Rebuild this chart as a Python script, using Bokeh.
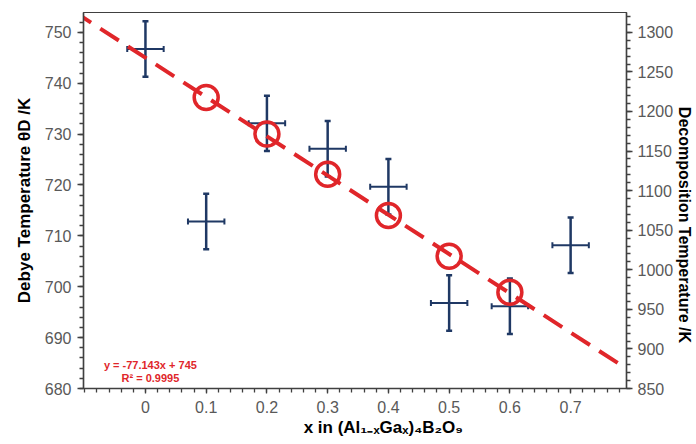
import math
from bokeh.plotting import figure
from bokeh.models import (Range1d, LinearAxis, SingleIntervalTicker, FixedTicker,
                          ColumnDataSource, Whisker, TeeHead, Label)
from bokeh.embed import file_html
from bokeh.resources import INLINE

# ---------------- data ----------------
x_debye = [0.1, 0.2, 0.3, 0.4, 0.5, 0.6]
debye_temp = [737.2, 730.0, 722.1, 714.0, 706.0, 698.9]

x_decomp = [0.0, 0.1, 0.2, 0.3, 0.4, 0.5, 0.6, 0.7]
decomp_temp = [1279, 1061, 1185, 1153, 1105, 958, 954, 1031]
decomp_err = [35, 35, 35, 35, 35, 35, 35, 35]
x_err = [0.03, 0.03, 0.03, 0.03, 0.03, 0.03, 0.03, 0.03]

trend_slope = -77.143
trend_intercept = 745.0
trend_x = [-0.12, 0.95]
eq_text = "y = -77.143x + 745"
r2_text = "R\u00b2 = 0.9995"

x_ticks = [0, 0.1, 0.2, 0.3, 0.4, 0.5, 0.6, 0.7]
x_tick_labels = ["0", "0.1", "0.2", "0.3", "0.4", "0.5", "0.6", "0.7"]

left_title = "Debye Temperature \u03b8D /K"
right_title = "Decomposition Temperature /K"
x_title = "x in (Al\u2081\u208b\u2093Ga\u2093)\u2084B\u2082O\u2089"

# ---------------- geometry / style ----------------
W, H = 696, 444
FL, FR, FT, FB = 83, 627, 12, 388
X0, X1 = -0.102, 0.792
Y0, Y1 = 680.0, 753.9
R0, R1 = 850.0, 850.0 + (Y1 - Y0) * 450.0 / 70.0

FONT = "Liberation Sans"
RED = "#e0262a"
NAVY = "#1f3864"
AXC = "#404040"
TICKC = "#595959"
NBSP = "\u00a0"

p = figure(width=W, height=H, x_range=Range1d(X0, X1), y_range=Range1d(Y0, Y1),
           output_backend="svg", toolbar_location=None,
           x_axis_type=None, y_axis_type=None,
           min_border_left=FL, min_border_right=W - FR,
           min_border_top=FT, min_border_bottom=H - FB)
p.extra_y_ranges = {"right": Range1d(R0, R1)}
p.background_fill_color = "white"
p.border_fill_color = "white"
p.outline_line_color = AXC
p.outline_line_width = 1.2


def style_axis(ax, tick_out=6, minor_out=4, standoff=6):
    ax.axis_line_color = AXC
    ax.axis_line_width = 1.5
    ax.major_tick_line_color = AXC
    ax.minor_tick_line_color = AXC
    ax.major_tick_line_width = 1.3
    ax.minor_tick_line_width = 1.3
    ax.major_tick_in = 0
    ax.major_tick_out = tick_out
    ax.minor_tick_in = 0
    ax.minor_tick_out = minor_out
    ax.major_label_text_font = FONT
    ax.major_label_text_font_size = "16px"
    ax.major_label_text_color = TICKC
    ax.major_label_standoff = standoff
    ax.axis_label_text_font = FONT
    ax.axis_label_text_font_size = "17px"
    ax.axis_label_text_font_style = "bold"
    ax.axis_label_text_color = "black"


yl = LinearAxis(ticker=SingleIntervalTicker(interval=10, num_minor_ticks=5))
style_axis(yl)
yl.axis_label = left_title
yl.axis_label_standoff = 8
p.add_layout(yl, "left")

yr = LinearAxis(y_range_name="right",
                ticker=SingleIntervalTicker(interval=50, num_minor_ticks=5))
style_axis(yr, standoff=5)
yr.axis_label = NBSP * 11 + right_title
yr.axis_label_standoff = 0
yr.axis_label_text_font_size = "16px"
p.add_layout(yr, "right")

minor_x = [round(-0.1 + 0.02 * i, 4) for i in range(45)]
xb = LinearAxis(ticker=FixedTicker(ticks=x_ticks, minor_ticks=minor_x))
style_axis(xb, tick_out=5, minor_out=4, standoff=7)
xb.major_label_overrides = {t: s for t, s in zip(x_ticks, x_tick_labels)}
xb.axis_label = NBSP * 12 + x_title
xb.axis_label_standoff = 2
p.add_layout(xb, "below")

# ---------------- trend line ----------------
trend_y = [trend_intercept + trend_slope * v for v in trend_x]
p.line(trend_x, trend_y, line_color=RED, line_width=4, line_dash="22 11")

# ---------------- Debye temperature (circles) ----------------
p.scatter(x_debye, debye_temp, marker="circle", size=24, fill_color=None,
          line_color=RED, line_width=3.5)

# ---------------- decomposition temperature (crosses with error bars) ----------------
src = ColumnDataSource(dict(
    x=x_decomp, y=decomp_temp,
    yu=[a + b for a, b in zip(decomp_temp, decomp_err)],
    yl=[a - b for a, b in zip(decomp_temp, decomp_err)],
    xu=[a + b for a, b in zip(x_decomp, x_err)],
    xl=[a - b for a, b in zip(x_decomp, x_err)],
))
vw = Whisker(source=src, base="x", upper="yu", lower="yl", dimension="height",
             y_range_name="right", line_color=NAVY, line_width=2.5,
             upper_head=TeeHead(size=6, line_color=NAVY, line_width=2.5),
             lower_head=TeeHead(size=6, line_color=NAVY, line_width=2.5))
hw = Whisker(source=src, base="y", upper="xu", lower="xl", dimension="width",
             y_range_name="right", line_color=NAVY, line_width=2,
             upper_head=TeeHead(size=6, line_color=NAVY, line_width=2),
             lower_head=TeeHead(size=6, line_color=NAVY, line_width=2))
p.add_layout(vw)
p.add_layout(hw)


# ---------------- trendline equation (inside the plot area) ----------------
def to_data(cx, cy):
    x = X0 + (cx - FL) * (X1 - X0) / (FR - FL)
    y = Y0 + (FB - cy) * (Y1 - Y0) / (FB - FT)
    return x, y


for cy, txt in [(364, eq_text), (377, r2_text)]:
    lx, ly = to_data(150, cy)
    p.add_layout(Label(x=lx, y=ly, text=txt, text_font=FONT, text_font_size="11px",
                       text_font_style="bold", text_color=RED, text_align="center",
                       text_baseline="alphabetic"))

open("out.html", "w").write(file_html(p, INLINE))
